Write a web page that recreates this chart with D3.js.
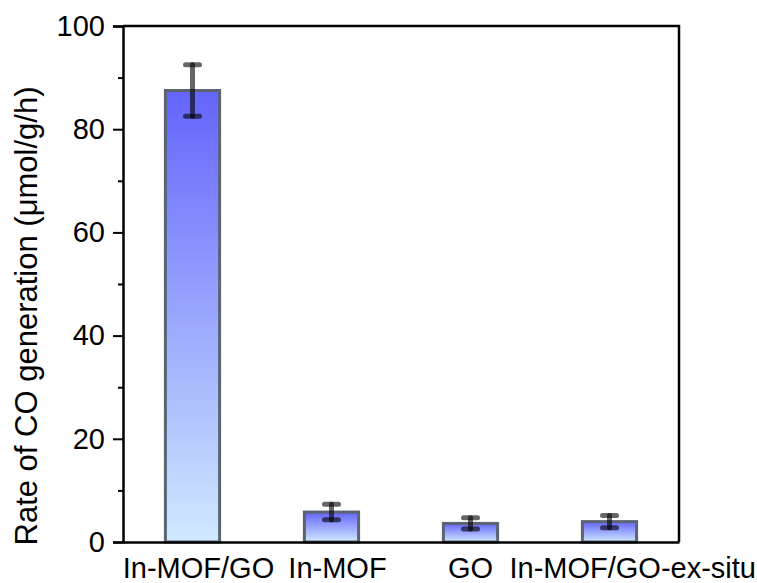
<!DOCTYPE html>
<html>
<head>
<meta charset="utf-8">
<script src="https://cdn.jsdelivr.net/npm/d3@7"></script>
<style>
    body { margin: 0; background: #fff; }
    svg { display: block; font-family: "Liberation Sans", Arial, sans-serif; }
</style>
</head>
<body>
<svg id="chart"></svg>
<script>
    "use strict"
    const width = 757;
    const height = 583;

    // data
    const categories = ["In-MOF/GO", "In-MOF", "GO", "In-MOF/GO-ex-situ"];
    const rates = [87.5, 5.8, 3.6, 3.95];
    const errors = [5.0, 1.5, 1.1, 1.2];
    const yTicks = [0, 20, 40, 60, 80, 100];
    const yMinorTicks = [10, 30, 50, 70, 90];

    const margin = { top: 26, right: 78, bottom: 41, left: 123 };

    const svg = d3.select("#chart")
        .attr("width", width)
        .attr("height", height);

    const defs = svg.append("defs");
    const grad = defs.append("linearGradient")
        .attr("id", "barGrad")
        .attr("x1", 0).attr("y1", 0)
        .attr("x2", 0).attr("y2", 1);
    grad.append("stop").attr("offset", "0%").attr("stop-color", "#6464fb");
    grad.append("stop").attr("offset", "100%").attr("stop-color", "#d0e9ff");

    const x = d3.scaleBand()
        .domain(categories)
        .range([margin.left, width - margin.right])
        .paddingInner(0.61)
        .paddingOuter(0.305);

    const y = d3.scaleLinear()
        .domain([0, 100])
        .range([height - margin.bottom, margin.top]);

    const data = categories.map((c, i) => ({ name: c, value: rates[i], err: errors[i] }));

    // bars
    svg.append("g").selectAll("rect")
        .data(data)
        .join("rect")
        .attr("x", d => x(d.name))
        .attr("y", d => y(d.value))
        .attr("width", x.bandwidth())
        .attr("height", d => y(0) - y(d.value))
        .attr("fill", "url(#barGrad)")
        .attr("stroke", "#5b6470")
        .attr("stroke-width", 3);

    // error bars
    const eb = svg.append("g")
        .attr("stroke", "#000")
        .attr("stroke-opacity", 0.6)
        .attr("stroke-linecap", "round")
        .attr("stroke-width", 5);
    const cx = d => x(d.name) + x.bandwidth() / 2;
    eb.selectAll(".stem").data(data).join("line")
        .attr("x1", cx).attr("x2", cx)
        .attr("y1", d => y(d.value + d.err))
        .attr("y2", d => y(d.value - d.err));
    eb.selectAll(".capTop").data(data).join("line")
        .attr("x1", d => cx(d) - 7).attr("x2", d => cx(d) + 7)
        .attr("y1", d => y(d.value + d.err))
        .attr("y2", d => y(d.value + d.err));
    eb.selectAll(".capBot").data(data).join("line")
        .attr("x1", d => cx(d) - 7).attr("x2", d => cx(d) + 7)
        .attr("y1", d => y(d.value - d.err))
        .attr("y2", d => y(d.value - d.err));

    // y axis
    const yAxis = svg.append("g")
        .attr("transform", `translate(${margin.left},0)`)
        .call(d3.axisLeft(y).tickValues(yTicks).tickSize(10).tickPadding(8).tickFormat(d3.format("d")));
    yAxis.select(".domain").attr("stroke-width", 2.5);
    yAxis.selectAll(".tick line").attr("stroke-width", 2);
    yAxis.selectAll("text").attr("font-size", 29).attr("fill", "#000")
        .attr("font-family", "Liberation Sans, Arial, sans-serif");

    svg.append("g")
        .attr("transform", `translate(${margin.left},0)`)
        .call(d3.axisLeft(y).tickValues(yMinorTicks).tickSize(5).tickFormat(""))
        .call(g => g.select(".domain").remove())
        .selectAll(".tick line").attr("stroke-width", 2);

    // x axis
    const xAxis = svg.append("g")
        .attr("transform", `translate(0,${height - margin.bottom})`)
        .call(d3.axisBottom(x).tickSize(0));
    xAxis.select(".domain").attr("stroke-width", 2.5);
    xAxis.selectAll("text")
        .attr("font-size", 29).attr("fill", "#000")
        .attr("font-family", "Liberation Sans, Arial, sans-serif")
        .attr("y", 36).attr("dy", 0);
    // nudge labels the way the original figure places them
    xAxis.selectAll("text").filter(d => d === "In-MOF/GO").attr("dx", 6);
    xAxis.selectAll("text").filter(d => d === "In-MOF").attr("dx", 6);
    xAxis.selectAll("text").filter(d => d === "In-MOF/GO-ex-situ")
        .attr("text-anchor", "end")
        .attr("x", function () { return width - 1 - x("In-MOF/GO-ex-situ") - x.bandwidth() / 2; });

    // frame top + right
    svg.append("path")
        .attr("d", `M${margin.left},${margin.top}H${width - margin.right}V${height - margin.bottom}`)
        .attr("fill", "none")
        .attr("stroke", "#000")
        .attr("stroke-width", 2.5);

    // y label
    svg.append("text")
        .attr("transform", `translate(37,316) rotate(-90)`)
        .attr("text-anchor", "middle")
        .attr("font-size", 31)
        .text("Rate of CO generation (μmol/g/h)");
</script>
</body>
</html>
